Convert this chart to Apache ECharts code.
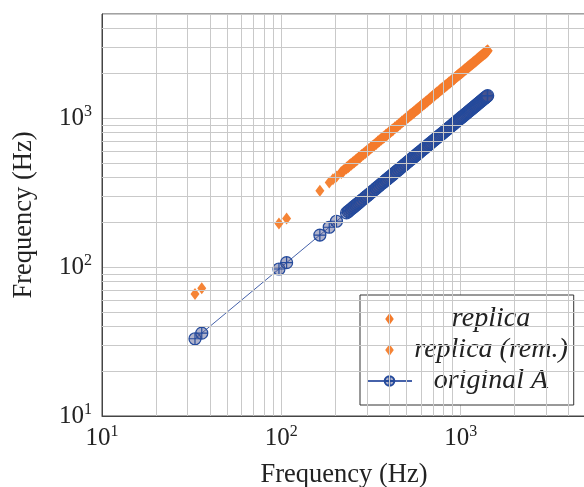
<!DOCTYPE html>
<html><head><meta charset="utf-8">
<script src="https://cdn.jsdelivr.net/npm/echarts@6/dist/echarts.min.js"></script>
<style>html,body{margin:0;padding:0;background:#fff}#c{width:584px;height:487px}</style>
</head><body><div id="c"></div>
<script>
// ---- data ----
const originalX = [33,36,97,107,164,185,203,231,236,240,245,250,255,260,265,270,275,280,287,294,300,307,315,322,330,338,345,352,360,368,375,383,390,398,405,413,420,430,440,450,460,470,480,490,500,510,520,530,540,550,560,570,580,590,600,612,625,637,650,662,675,687,700,712,725,737,750,762,775,787,800,815,830,845,860,875,890,905,920,935,950,965,980,995,1010,1025,1040,1055,1070,1085,1100,1115,1130,1145,1160,1175,1190,1205,1220,1235,1250,1265,1280,1295,1310,1325,1340,1355,1370,1385,1400,1415];
const originalY = [33,36,97,107,164,185,203,231,236,240,245,250,255,260,265,270,275,280,287,294,300,307,315,322,330,338,345,352,360,368,375,383,390,398,405,413,420,430,440,450,460,470,480,490,500,510,520,530,540,550,560,570,580,590,600,612,625,637,650,662,675,687,700,712,725,737,750,762,775,787,800,815,830,845,860,875,890,905,920,935,950,965,980,995,1010,1025,1040,1055,1070,1085,1100,1115,1130,1145,1160,1175,1190,1205,1220,1235,1250,1265,1280,1295,1310,1325,1340,1355,1370,1385,1400,1415];
const replicaX = [216,222,231,236,240,245,250,255,260,265,270,275,280,287,294,300,307,315,322,330,338,345,352,360,368,375,383,390,398,405,413,420,430,440,450,460,470,480,490,500,510,520,530,540,550,560,570,580,590,600,612,625,637,650,662,675,687,700,712,725,737,750,762,775,787,800,815,830,845,860,875,890,905,920,935,950,965,980,995,1010,1025,1040,1055,1070,1085,1100,1115,1130,1145,1160,1175,1190,1205,1220,1235,1250,1265,1280,1295,1310,1325,1340,1355,1370,1385,1400,1415];
const replicaY = [432,444,462,472,480,490,500,510,520,530,540,550,560,574,588,600,614,630,644,660,676,690,704,720,736,750,766,780,796,810,826,840,860,880,900,920,940,960,980,1000,1020,1040,1060,1080,1100,1120,1140,1160,1180,1200,1224,1250,1274,1300,1324,1350,1374,1400,1424,1450,1474,1500,1524,1550,1574,1600,1630,1660,1690,1720,1750,1780,1810,1840,1870,1900,1930,1960,1990,2020,2050,2080,2110,2140,2170,2200,2230,2260,2290,2320,2350,2380,2410,2440,2470,2500,2530,2560,2590,2620,2650,2680,2710,2740,2770,2800,2830];
const replicaRemX = [33,36,97,107,164,185,194,203];
const replicaRemY = [66,72,196,212,325,370,388,405];
const seriesNames = ['replica','replica (rem.)','original A'];
const minorGridValues = [20,30,40,50,60,70,80,90,200,300,400,500,600,700,800,900,2000,3000,4000];
const axisMin = 10, axisMax = 5000;
const axisTitle = 'Frequency (Hz)';

// ---- build ----
const zip = (xs, ys) => xs.map((x, i) => [x, ys[i]]);
const SERIF = 'Liberation Serif';
const fmtPow = v => {
  const e = Math.log10(v);
  if (Math.abs(e - Math.round(e)) > 1e-9) return '';
  return '{b|10}{s|' + Math.round(e) + '}';
};
const labelRich = {
  b: {fontFamily: SERIF, fontSize: 25, color: '#222'},
  s: {fontFamily: SERIF, fontSize: 16, color: '#222', padding: [0, 0, 12, 0]}
};
const gridLineColor = '#c9c9c9';
const circleCross = 'path://M-10,0A10,10,0,1,0,10,0A10,10,0,1,0,-10,0ZM0,-10L0,10M-10,0L10,0';
const diamond = 'path://M5,0L10,7L5,14L0,7Z';

function axis(extra) {
  return Object.assign({
    type: 'log', logBase: 10, min: axisMin, max: axisMax,
    name: axisTitle, nameLocation: 'middle',
    nameTextStyle: {fontFamily: SERIF, fontSize: 26.5, color: '#222'},
    axisLine: {show: true, onZero: false, lineStyle: {color: '#444', width: 1}},
    axisTick: {show: false},
    splitLine: {show: true, lineStyle: {color: gridLineColor, width: 1}},
    axisLabel: {formatter: fmtPow, rich: labelRich, showMinLabel: true, showMaxLabel: true}
  }, extra);
}

const chart = echarts.init(document.getElementById('c'), null, {renderer: 'canvas'});
chart.setOption({
  animation: false,
  backgroundColor: '#fff',
  grid: {left: 102, top: 14, width: 484, height: 402, outerBoundsMode: 'none', containLabel: false,
         show: true, borderColor: '#444', borderWidth: 1, backgroundColor: 'transparent'},
  xAxis: axis({nameGap: 46, axisLabel: {formatter: fmtPow, rich: labelRich, margin: 8}}),
  yAxis: axis({nameGap: 64, axisLabel: {formatter: fmtPow, rich: labelRich, margin: 10}}),
  legend: {
    orient: 'vertical', left: 360, top: 295,
    padding: [10, 6, 10, 6], itemGap: 3, itemWidth: 45, itemHeight: 12,
    backgroundColor: '#fff', borderColor: '#333', borderWidth: 1, borderRadius: 0,
    data: [{name: seriesNames[0], icon: diamond}, {name: seriesNames[1], icon: diamond}, {name: seriesNames[2]}],
    formatter: n => '{t|' + n + '}',
    textStyle: {rich: {t: {width: 148, align: 'center', fontFamily: SERIF, fontStyle: 'italic', fontSize: 28, color: '#222'}}}
  },
  series: [
    {
      name: 'minor-grid', type: 'line', data: [], silent: true, z: 1,
      markLine: {
        silent: true, symbol: ['none', 'none'], label: {show: false},
        lineStyle: {color: gridLineColor, width: 1, type: 'solid'},
        emphasis: {disabled: true},
        data: minorGridValues.map(v => ({xAxis: v})).concat(minorGridValues.map(v => ({yAxis: v})))
      }
    },
    {
      name: seriesNames[0], type: 'scatter', z: 3,
      symbol: 'diamond', symbolSize: [10, 13],
      itemStyle: {color: '#f47b2c', opacity: 1},
      data: zip(replicaX, replicaY)
    },
    {
      name: seriesNames[1], type: 'scatter', z: 3,
      symbol: 'diamond', symbolSize: [9, 12],
      itemStyle: {color: '#f58436', opacity: 1},
      data: zip(replicaRemX, replicaRemY)
    },
    {
      name: seriesNames[2], type: 'line', z: 4,
      symbol: circleCross, symbolSize: 12, showAllSymbol: true,
      lineStyle: {color: '#4662aa', width: 1},
      itemStyle: {color: 'rgba(80,86,140,0.45)', borderColor: '#244a9c', borderWidth: 1.2},
      data: zip(originalX, originalY)
    }
  ]
});
</script></body></html>
